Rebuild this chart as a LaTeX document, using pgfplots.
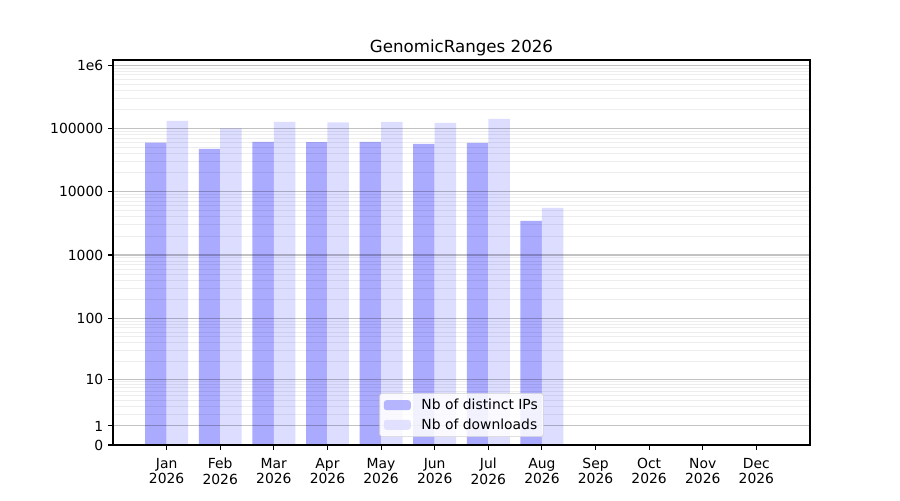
\documentclass[border=0pt]{standalone}
\usepackage{pgfplots}
\pgfplotsset{compat=1.18}
\usepackage{pgfplotstable}
\usepackage{fontspec}
\setmainfont{DejaVu Sans}
\definecolor{ipcol}{HTML}{AAAAFF}
\definecolor{dlcol}{HTML}{DDDDFF}

\pgfplotstableread{
m ips downloads
1 59500 131000
2 47400 100500
3 61000 126500
4 60500 125000
5 61000 126500
6 56900 122000
7 59000 141000
8 3460 5550
9 0 0
10 0 0
11 0 0
12 0 0
}\datatable

\begin{document}
\begin{tikzpicture}
\begin{axis}[
  at={(0,0)}, anchor=south west,
  scale only axis,
  width=501.84pt, height=277.2pt,
  xmin=0, xmax=13,
  ymin=0, ymax=6.08,
  axis on top,
  axis line style={black, line width=0.8pt},
  tick style={black, line width=0.8pt},
  major tick length=3.5pt,
  minor tick length=0pt,
  tick align=outside,
  xtick pos=bottom, ytick pos=left,
  xtick={1,2,3,4,5,6,7,8,9,10,11,12},
  xticklabels={Jan\\2026,Feb\\2026,Mar\\2026,Apr\\2026,May\\2026,Jun\\2026,Jul\\2026,Aug\\2026,Sep\\2026,Oct\\2026,Nov\\2026,Dec\\2026},
  xticklabel style={align=center, font=\fontsize{10}{11}\selectfont, yshift=-2.5pt},
  ytick={0,0.30103,1.04139,2.00432,3.000434,4.0000434,5.0000043,6},
  yticklabels={0,1,10,100,1000,10000,100000,1e6},
  yticklabel style={font=\fontsize{10}{12}\selectfont},
  minor ytick={0.4771,0.6021,0.6990,0.7782,0.8451,0.9031,0.9542,1.0,
    1.3222,1.4914,1.6128,1.7076,1.7853,1.8513,1.9085,1.9590,
    2.3032,2.4786,2.6031,2.6998,2.7789,2.8457,2.9036,2.9547,
    3.30103,3.47712,3.60206,3.69897,3.77815,3.84510,3.90309,3.95424,
    4.30103,4.47712,4.60206,4.69897,4.77815,4.84510,4.90309,4.95424,
    5.30103,5.47712,5.60206,5.69897,5.77815,5.84510,5.90309,5.95424},
  ymajorgrids, yminorgrids,
  major grid style={black, opacity=0.24, line width=0.8pt},
  minor grid style={black, opacity=0.07, line width=0.6pt},
  /pgf/number format/assume math mode=true,
  title={GenomicRanges 2026},
  title style={font=\fontsize{12}{14}\selectfont, yshift=-6.6pt},
  legend style={at={(0.5,0)}, anchor=south, yshift=5.8pt,
    draw=black!18, rounded corners=2pt, fill=white, fill opacity=0.85, text opacity=1,
    font=\fontsize{10}{12}\selectfont, row sep=1pt,
    inner xsep=3pt, inner ysep=2pt,
    nodes={inner xsep=1pt}, column sep=6.6pt},
  legend cell align=left,
  area legend,
  legend image code/.code={\fill[#1] (0pt,-3.6pt) rectangle (19.5pt,3.6pt);},
]
\addplot[ybar, bar width=0.4, bar shift=0pt, fill=ipcol, draw=none]
  table[x expr=\thisrow{m}-0.2, y expr={log10(\thisrow{ips}+1)}] {\datatable};
\addlegendentry{Nb of distinct IPs}
\addplot[ybar, bar width=0.4, bar shift=0pt, fill=dlcol, draw=none]
  table[x expr=\thisrow{m}+0.2, y expr={log10(\thisrow{downloads}+1)}] {\datatable};
\addlegendentry{Nb of downloads}
\end{axis}
\path (current axis.south west) ++(-81.36pt,-39.6pt) rectangle ++(648pt,360pt);
\end{tikzpicture}
\end{document}
